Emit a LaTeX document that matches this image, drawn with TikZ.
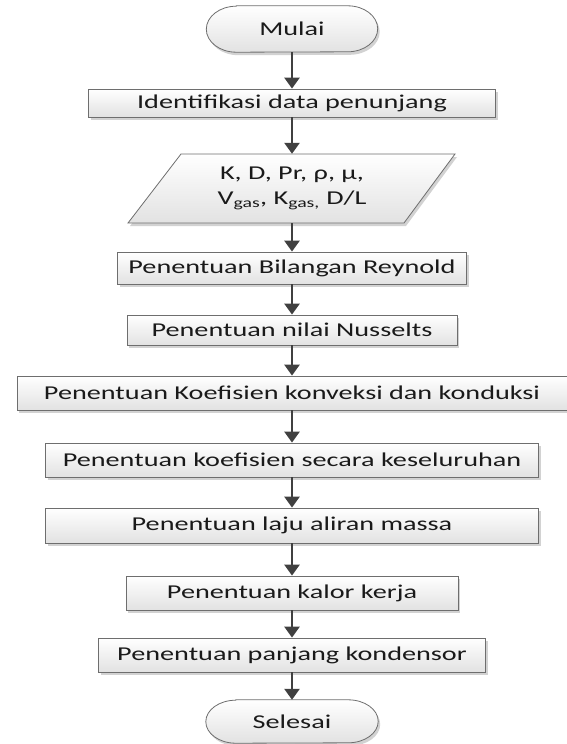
\documentclass[tikz,border=0pt]{standalone}
\usepackage{fontspec}
\setmainfont{Carlito}[FakeStretch=1.44]
\usetikzlibrary{arrows.meta,shadows,backgrounds}
\definecolor{boxline}{HTML}{6E6E6E}
\definecolor{boxbot}{HTML}{E2E2E2}
\definecolor{arrowc}{HTML}{404040}
\definecolor{shadowc}{HTML}{D2D2D2}
\definecolor{txt}{HTML}{1A1A1A}
\tikzset{
  boxbase/.style={draw=boxline, line width=0.8pt, top color=white, bottom color=boxbot,
    drop shadow={shadow xshift=2pt, shadow yshift=-3pt, fill=shadowc, opacity=1}},
  proc/.style={boxbase, rectangle, inner sep=0pt, text=txt, font=\fontsize{19.6}{22}\selectfont},
  ghost/.style={rectangle, inner sep=0pt, text=txt, font=\fontsize{19.6}{24}\selectfont},
  conn/.style={draw=arrowc, line width=2.6pt, -{Triangle[width=15pt,length=11pt]}}
}
\begin{document}
\begin{tikzpicture}[x=1pt,y=1pt]
\useasboundingbox (0,0) rectangle (566,-744);
% nodes
\node[ghost, minimum width=171pt, minimum height=46pt] (mulai) at (292,-29) {Mulai};
\node[proc, minimum width=407pt, minimum height=28pt] (ident) at (292,-103) {Identifikasi data penunjang};
\node[ghost, minimum width=230pt, minimum height=69pt, align=center] (input) at (292,-188.5)
  {\raisebox{1pt}{K, D, Pr, ρ, μ,}\\V\textsubscript{gas}, K\textsubscript{gas,} D/L};
\node[proc, minimum width=349pt, minimum height=32pt] (reyn) at (292,-268) {Penentuan Bilangan Reynold};
\node[proc, minimum width=330pt, minimum height=30pt] (nuss) at (292,-330) {Penentuan nilai Nusselts};
\node[proc, minimum width=550pt, minimum height=34pt] (konv) at (292,-393) {Penentuan Koefisien konveksi dan konduksi};
\node[proc, minimum width=493pt, minimum height=34pt] (kesel) at (292,-460) {Penentuan koefisien secara keseluruhan};
\node[proc, minimum width=493pt, minimum height=35pt] (laju) at (292,-525.5) {Penentuan laju aliran massa};
\node[proc, minimum width=332pt, minimum height=34pt] (kalor) at (292,-593) {Penentuan kalor kerja};
\node[proc, minimum width=387pt, minimum height=34pt] (panjang) at (292,-655) {Penentuan panjang kondensor};
\node[ghost, minimum width=172pt, minimum height=43pt] (selesai) at (292,-721.5) {Selesai};
% shapes drawn behind
\begin{scope}[on background layer]
  \path[boxbase] ([xshift=30pt]mulai.north west) -- ([xshift=-30pt]mulai.north east)
    arc[start angle=90, end angle=-90, x radius=30pt, y radius=23pt]
    -- ([xshift=30pt]mulai.south west)
    arc[start angle=270, end angle=90, x radius=30pt, y radius=23pt] -- cycle;
  \path[boxbase] ([xshift=30pt]selesai.north west) -- ([xshift=-30pt]selesai.north east)
    arc[start angle=90, end angle=-90, x radius=30pt, y radius=21.5pt]
    -- ([xshift=30pt]selesai.south west)
    arc[start angle=270, end angle=90, x radius=30pt, y radius=21.5pt] -- cycle;
  \path[boxbase] (181,-154) -- (455,-154) -- (404,-223) -- (128,-223) -- cycle;
\end{scope}
% connectors
\draw[conn] (mulai) -- (ident);
\draw[conn] (ident) -- (input);
\draw[conn] (input) -- (reyn);
\draw[conn] (reyn) -- (nuss);
\draw[conn] (nuss) -- (konv);
\draw[conn] (konv) -- (kesel);
\draw[conn] (kesel) -- (laju);
\draw[conn] (laju) -- (kalor);
\draw[conn] (kalor) -- (panjang);
\draw[conn] (panjang) -- (selesai);
\end{tikzpicture}
\end{document}
